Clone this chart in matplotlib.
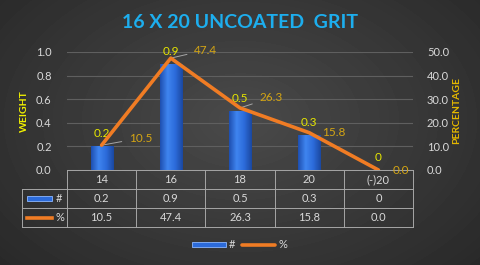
import numpy as np
import matplotlib.pyplot as plt
from matplotlib.patches import Rectangle
from matplotlib.colors import LinearSegmentedColormap

categories = ['14', '16', '18', '20', '(-)20']
weight = [0.2, 0.9, 0.5, 0.3, 0]
percent = [10.5, 47.4, 26.3, 15.8, 0.0]
weight_labels = ['0.2', '0.9', '0.5', '0.3', '0']
percent_labels = ['10.5', '47.4', '26.3', '15.8', '0.0']
# pixel offsets of the % labels from their points
pct_offsets = [(27, 7), (23, 8), (19, 10), (13, 0), (14, 0)]

plt.rcParams['font.family'] = ['Lato', 'DejaVu Sans']
TXT = '#D9D9D9'
BLUE = '#2C6BDA'

fig = plt.figure(figsize=(4.8, 2.65), dpi=100)

# dark radial background
bg = fig.add_axes([0, 0, 1, 1], zorder=-10)
yy, xx = np.mgrid[0:265, 0:480]
r = np.sqrt(((xx - 240) / 300) ** 2 + ((yy - 120) / 200) ** 2)
shade = np.clip(0.29 - 0.12 * r, 0.15, 0.29)
bg.imshow(shade, cmap='gray', vmin=0, vmax=1, aspect='auto')
bg.axis('off')

ax = fig.add_axes([67 / 480, 1 - 170 / 265, 346 / 480, 118 / 265])
ax.set_facecolor('none')
x = np.arange(len(categories))
bars = ax.bar(x, weight, width=0.32, color=BLUE, edgecolor='#1F4FAF',
              linewidth=0.6, label='#', zorder=3)
ax.set_xlim(-0.5, 4.5)
ax.set_ylim(0, 1.0)

# cylinder-like shading across each bar
cyl = LinearSegmentedColormap.from_list('cyl', ['#1E4FB0', '#3F85F0', '#2C6BDA', '#1B48A0'])
grad = np.linspace(0, 1, 64).reshape(1, -1)
for b in bars:
    if b.get_height() <= 0:
        continue
    im = ax.imshow(grad, cmap=cyl, aspect='auto', zorder=3.5,
                   extent=(b.get_x(), b.get_x() + b.get_width(), 0, b.get_height()))
    im.set_clip_path(b)
ax.set_xlim(-0.5, 4.5)
ax.set_ylim(0, 1.0)

ax.set_yticks(np.arange(0, 1.01, 0.2))
ax.yaxis.set_major_formatter('{x:.1f}')
ax.set_xticks([])
ax.grid(axis='y', color='#5f5f5f', linewidth=0.8, zorder=0)
for s in ax.spines.values():
    s.set_visible(False)
ax.tick_params(axis='y', length=0, colors=TXT, labelsize=8, pad=11)

for xi, w, lab in zip(x, weight, weight_labels):
    ax.annotate(lab, (xi, w), xytext=(0, 7), textcoords='offset pixels',
                ha='center', va='bottom', color='#E6E600', fontsize=8.5)

ax2 = ax.twinx()
ax2.set_facecolor('none')
line, = ax2.plot(x, percent, color='#F07C24', linewidth=2.6, label='%',
                 zorder=4, solid_capstyle='round')
ax2.set_ylim(0, 50)
ax2.set_yticks(np.arange(0, 51, 10))
ax2.yaxis.set_major_formatter('{x:.1f}')
for s in ax2.spines.values():
    s.set_visible(False)
ax2.tick_params(axis='y', length=0, colors=TXT, labelsize=8, pad=10)

for xi, p, lab, off in zip(x, percent, percent_labels, pct_offsets):
    arrow = dict(arrowstyle='-', color='#A6A6A6', lw=0.7, shrinkA=3, shrinkB=1) if off[1] else None
    ax2.annotate(lab, (xi, p), xytext=off, textcoords='offset pixels',
                 ha='left', va='center', color='#D4A514', fontsize=8.5,
                 arrowprops=arrow)

# data table under the axes
tr = ax.get_xaxis_transform()
row_h = 19 / 118
left = -0.5 - 45 / 69.2
kw = dict(color='#A6A6A6', lw=0.7, transform=tr, clip_on=False)
ax.plot([-0.5, 4.5], [0, 0], **kw)
for k in range(1, 4):
    ax.plot([left, 4.5], [-k * row_h] * 2, **kw)
for xv in np.arange(-0.5, 5, 1.0):
    ax.plot([xv, xv], [0, -3 * row_h], **kw)
ax.plot([left, left], [-row_h, -3 * row_h], **kw)

for xi, c, w, p in zip(x, categories, weight_labels, percent_labels):
    for k, t in enumerate([c, w, p]):
        ax.text(xi, -(k + 0.5) * row_h, t, transform=tr, ha='center',
                va='center', color=TXT, fontsize=8)

ax.add_patch(Rectangle((-1.078, -1.5 * row_h - 0.021), 0.36, 0.042,
                       facecolor=BLUE, edgecolor='#8DB8FF', lw=0.6,
                       transform=tr, clip_on=False))
ax.plot([-1.078, -0.717], [-2.5 * row_h] * 2, color='#F07C24', lw=2.6,
        transform=tr, clip_on=False)
ax.text(-0.66, -1.5 * row_h, '#', transform=tr, ha='left', va='center',
        color=TXT, fontsize=8)
ax.text(-0.66, -2.5 * row_h, '%', transform=tr, ha='left', va='center',
        color=TXT, fontsize=8)

swatch = Rectangle((0, 0), 1, 1, facecolor=BLUE, edgecolor='#8DB8FF', lw=0.6)
fig.legend(handles=[swatch, line], labels=['#', '%'], loc='center',
           bbox_to_anchor=(0.5, 1 - 245 / 265), ncol=2, frameon=False,
           labelcolor=TXT, fontsize=8, handlelength=3.0, handleheight=0.4,
           columnspacing=0.6, handletextpad=0.3)

fig.text(0.5, 1 - 22 / 265, '16 X 20 UNCOATED  GRIT', color='#1DAEEE',
         fontsize=14, fontweight='bold', ha='center', va='center')
fig.text(24 / 480, 1 - 111 / 265, 'WEIGHT', rotation=90, color='#F2F200',
         fontsize=7.5, fontweight='bold', ha='center', va='center')
fig.text(457 / 480, 1 - 110 / 265, 'PERCENTAGE', rotation=90, color='#E5B800',
         fontsize=7.5, fontweight='bold', ha='center', va='center')

fig.savefig('out.png', dpi=100)
